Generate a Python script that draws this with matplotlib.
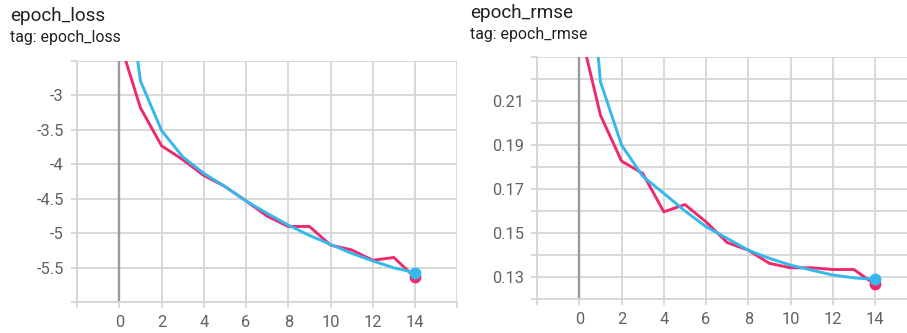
import numpy as np
import matplotlib
matplotlib.use("Agg")
import matplotlib.pyplot as plt

plt.rcParams['font.family'] = ['Roboto', 'DejaVu Sans']

epochs = list(range(15))
loss_raw = [-2.2, -3.18, -3.73, -3.93, -4.16, -4.32, -4.53, -4.75, -4.90, -4.90,
            -5.17, -5.24, -5.39, -5.35, -5.64]
loss_smooth = [-0.55, -2.79, -3.51, -3.89, -4.13, -4.32, -4.53, -4.71, -4.88, -5.03,
               -5.16, -5.29, -5.40, -5.50, -5.57]
rmse_raw = [0.244, 0.2036, 0.1827, 0.1771, 0.1596, 0.1629, 0.155, 0.1456, 0.1421,
            0.1361, 0.1341, 0.1341, 0.1333, 0.1333, 0.1265]
rmse_smooth = [0.328, 0.2188, 0.19, 0.1758, 0.168, 0.160, 0.1528, 0.1475, 0.1421,
               0.1384, 0.1353, 0.133, 0.1308, 0.1295, 0.1288]

loss_yticks = [-6, -5.5, -5, -4.5, -4, -3.5, -3, -2.5]
loss_ylabels = ['', '-5.5', '-5', '-4.5', '-4', '-3.5', '-3', '']
rmse_yticks = [0.12, 0.13, 0.14, 0.15, 0.16, 0.17, 0.18, 0.19, 0.20, 0.21, 0.22, 0.23]
rmse_ylabels = ['', '0.13', '', '0.15', '', '0.17', '', '0.19', '', '0.21', '', '']
xticks = [-2, 0, 2, 4, 6, 8, 10, 12, 14, 16]
xlabels = ['', '0', '2', '4', '6', '8', '10', '12', '14', '']

RED = '#ee2a6e'
BLUE = '#35b8ec'
GRID = '#d6d6d6'
W, H = 907, 333

fig = plt.figure(figsize=(W / 100, H / 100), dpi=100)


def panel(px_left, px_top, px_bottom, raw, smooth, yticks, ylabels, ylim, title, tx, ty):
    ax = fig.add_axes([px_left / W, 1 - px_bottom / H, (18 * 21.12) / W,
                       (px_bottom - px_top) / H])
    ax.set_xlim(-2, 16)
    ax.set_ylim(*ylim)
    ax.set_xticks(xticks)
    ax.set_xticklabels(xlabels)
    ax.set_yticks(yticks)
    ax.set_yticklabels(ylabels)
    ax.grid(True, color=GRID, lw=1.3)
    for s in ['top', 'right']:
        ax.spines[s].set_visible(False)
    for s in ['left', 'bottom']:
        ax.spines[s].set_color(GRID)
        ax.spines[s].set_linewidth(1.3)
    ax.tick_params(length=4.5, width=1.3, color=GRID, labelsize=11.8,
                   labelcolor='#616161', pad=5)
    ax.axvline(0, color='#999999', lw=1.7, zorder=2)
    ax.plot(epochs, raw, color=RED, lw=2.1, zorder=3)
    ax.plot(epochs, smooth, color=BLUE, lw=2.1, zorder=4)
    ax.plot(epochs[-1], raw[-1], 'o', color=RED, ms=7.5, zorder=5, clip_on=False)
    ax.plot(epochs[-1], smooth[-1], 'o', color=BLUE, ms=7.5, zorder=6, clip_on=False)
    fig.text(tx / W, 1 - ty / H, title, fontsize=13.6, color='#212121', va='baseline')
    fig.text(tx / W, 1 - (ty + 21) / H, 'tag: ' + title, fontsize=11.4,
             color='#212121', va='baseline')
    return ax


panel(77.1, 61, 302.3, loss_raw, loss_smooth, loss_yticks, loss_ylabels, (-6, -2.5),
      'epoch_loss', 10, 21)
panel(537.1, 57.3, 298.7, rmse_raw, rmse_smooth, rmse_yticks, rmse_ylabels, (0.12, 0.23),
      'epoch_rmse', 470, 18.5)

fig.savefig('out.png', dpi=100)
